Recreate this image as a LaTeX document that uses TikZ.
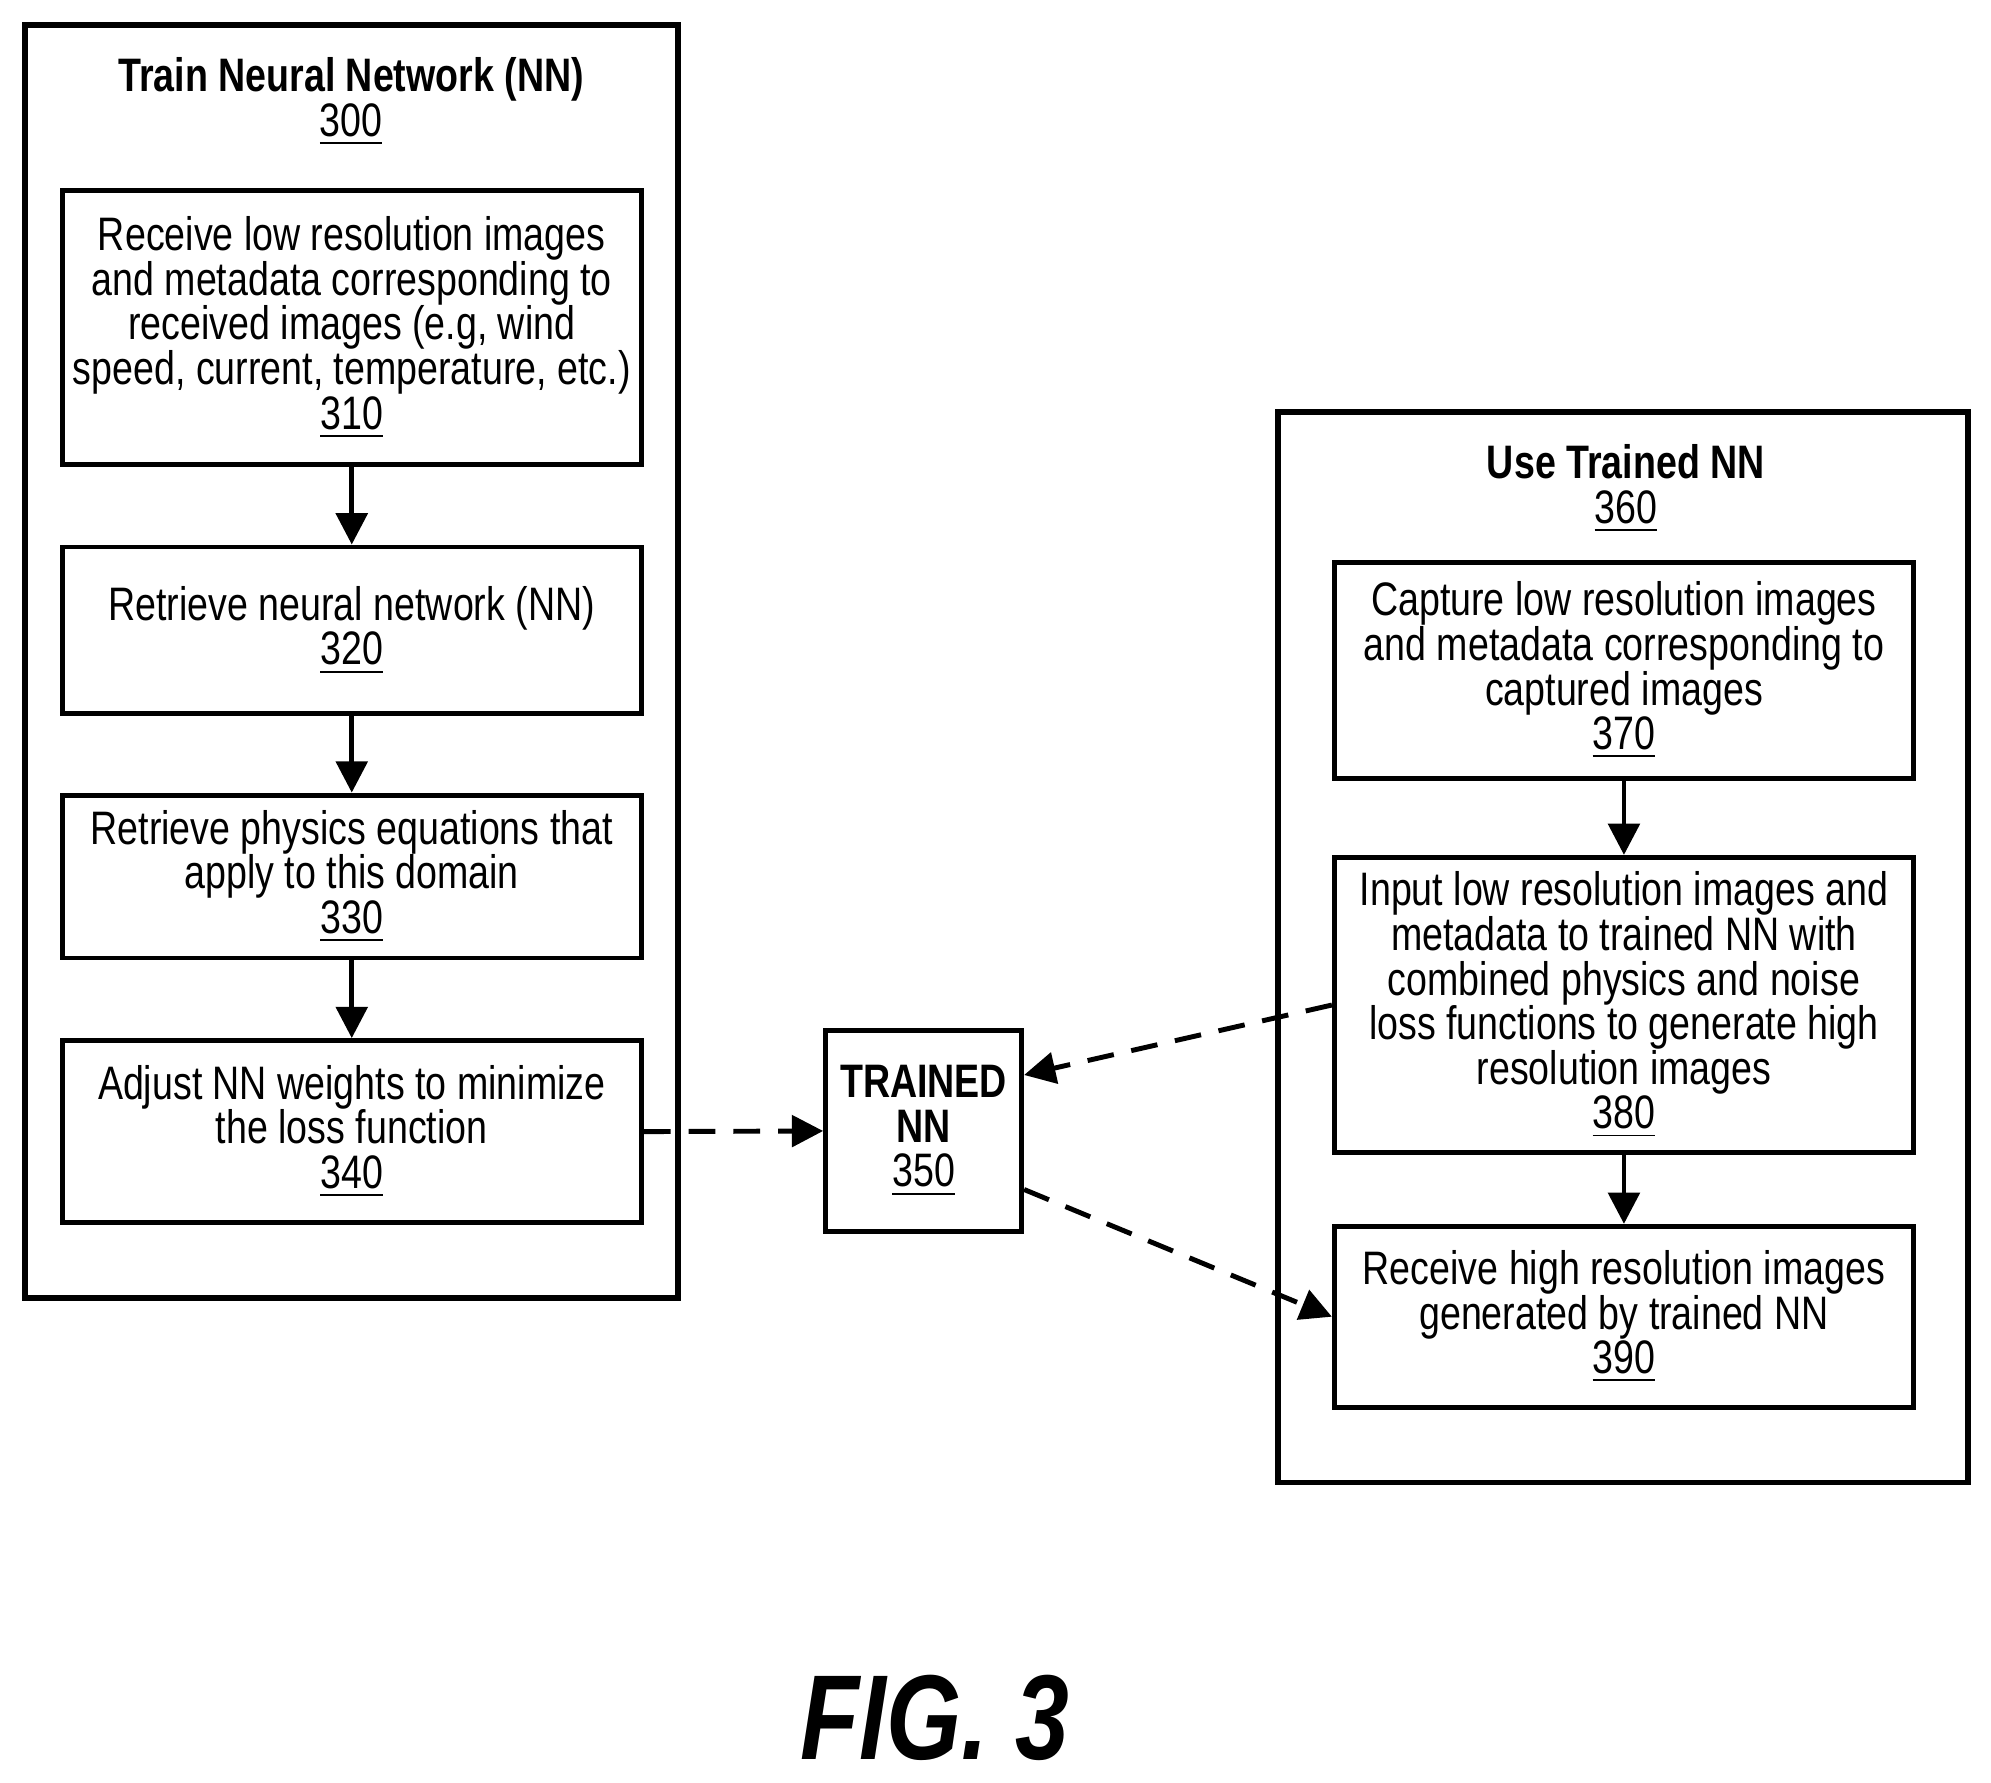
\documentclass[tikz,border=0pt]{standalone}
\usepackage{fontspec}
\setmainfont[FakeStretch=0.8]{Liberation Sans}
\usetikzlibrary{arrows.meta}
\begin{document}
\begin{tikzpicture}[
		x = 0.01cm,
		y = -0.01cm,
		every node/.style = {
			font = \fontsize{10.5pt}{9.96pt}\selectfont,
			align = center,
			inner sep = 0
		},
		grp/.style = {
			draw,
			rectangle,
			line width = 1.3pt
		},
		stepbox/.style = {
			draw,
			rectangle,
			line width = 1.1pt,
			minimum width = 4.55cm
		},
		flow/.style = {
			-{Triangle[length=7pt,width=7pt]},
			line width = 1.1pt
		},
		link/.style = {
			flow,
			dash pattern = on 6pt off 4pt
		}
	]
	\useasboundingbox (0, 0) rectangle (1565, 1401);

	% training side
	\node [grp, minimum width = 5.13cm, minimum height = 10.0cm] (g300) at (276.5, 520) {};
	\node (t300) at (276, 80) {\textbf{Train Neural Network (NN)}\\\underline{300}};

	\node [stepbox, minimum height = 2.15cm] (s310) at (276.5, 257.5) {Receive low resolution images\\and metadata corresponding to\\received images (e.g, wind\\speed, current, temperature, etc.)\\\underline{310}};
	\node [stepbox, minimum height = 1.31cm] (s320) at (276.5, 495.5) {Retrieve neural network (NN)\\\underline{320}};
	\node [stepbox, minimum height = 1.28cm] (s330) at (276.5, 689) {Retrieve physics equations that\\apply to this domain\\\underline{330}};
	\node [stepbox, minimum height = 1.43cm] (s340) at (276.5, 889.5) {Adjust NN weights to minimize\\the loss function\\\underline{340}};

	\draw [flow] (s310) -- (s320);
	\draw [flow] (s320) -- (s330);
	\draw [flow] (s330) -- (s340);

	% trained network
	\node [draw, line width = 1.1pt, minimum width = 1.54cm, minimum height = 1.58cm] (n350) at (726, 889) {\textbf{TRAINED}\\\textbf{NN}\\\underline{350}};

	% usage side
	\node [grp, minimum width = 5.42cm, minimum height = 8.41cm] (g360) at (1276, 744.5) {};
	\node (t360) at (1278, 384) {\textbf{Use Trained NN}\\\underline{360}};

	\node [stepbox, minimum height = 1.70cm] (s370) at (1276.5, 527) {Capture low resolution images\\and metadata corresponding to\\captured images\\\underline{370}};
	\node [stepbox, minimum height = 2.32cm] (s380) at (1276.5, 790) {Input low resolution images and\\metadata to trained NN with\\combined physics and noise\\loss functions to generate high\\resolution images\\\underline{380}};
	\node [stepbox, minimum height = 1.42cm] (s390) at (1276.5, 1035) {Receive high resolution images\\generated by trained NN\\\underline{390}};

	\draw [flow] (s370) -- (s380);
	\draw [flow] (s380) -- (s390);

	% dashed links
	\draw [link] (s340.east) -- (n350.west);
	\draw [link] (s380.west) -- (n350.north east |- 0, 845);
	\draw [link] (n350.south east |- 0, 935) -- (s390.west);

	\node (fig) at (735, 1350) {\fontsize{27pt}{27pt}\selectfont\bfseries\itshape FIG. 3};
\end{tikzpicture}
\end{document}
